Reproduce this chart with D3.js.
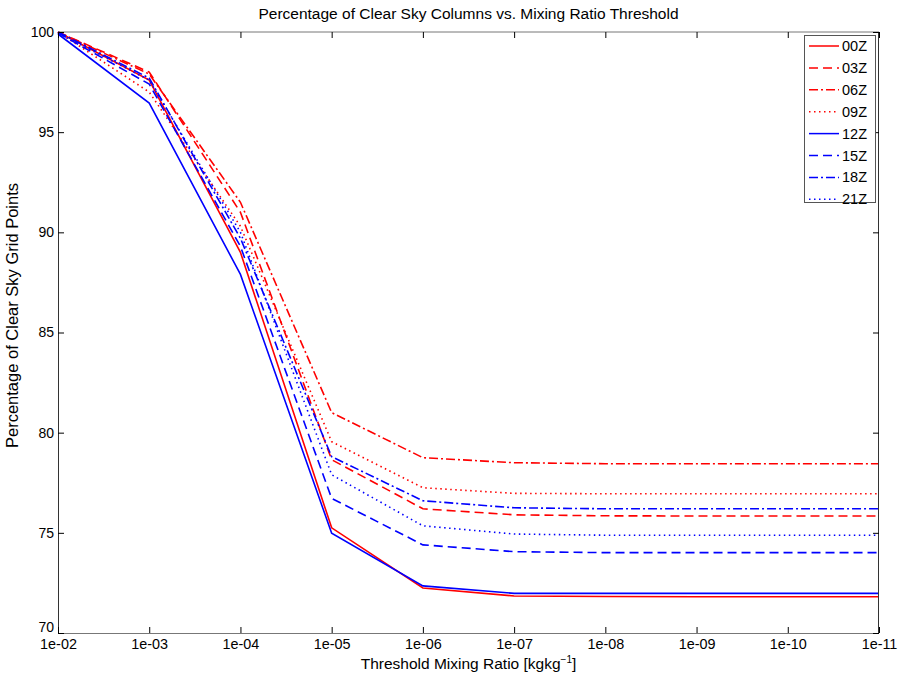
<html>
<meta charset="utf-8">
<style>
body { margin: 0; background: #fff; }
text { font-family: "Liberation Sans", Arial, sans-serif; }
.series { fill: none; stroke-width: 1.6px; }
</style>
<body>
<script src="https://d3js.org/d3.v7.min.js"></script>
<script>

// threshold values (x) and tick labels
var thresholds = [1e-2, 1e-3, 1e-4, 1e-5, 1e-6, 1e-7, 1e-8, 1e-9, 1e-10, 1e-11];
var xTickLabels = ["1e-02", "1e-03", "1e-04", "1e-05", "1e-06", "1e-07", "1e-08", "1e-09", "1e-10", "1e-11"];
var yTicks = [70, 75, 80, 85, 90, 95, 100];

// series names
var names = ["00Z", "03Z", "06Z", "09Z", "12Z", "15Z", "18Z", "21Z"];

// percentage of clear sky grid points, one array per time
var z00 = [100, 97.6, 89.0, 75.25, 72.25, 71.85, 71.82, 71.81, 71.81, 71.81];
var z03 = [100, 98.0, 91.0, 78.65, 76.2, 75.9, 75.85, 75.84, 75.84, 75.84];
var z06 = [100, 97.9, 91.5, 81.0, 78.75, 78.5, 78.45, 78.45, 78.45, 78.45];
var z09 = [100, 97.0, 90.3, 79.55, 77.25, 76.97, 76.95, 76.95, 76.95, 76.95];
var z12 = [99.9, 96.45, 87.9, 74.98, 72.35, 71.98, 71.98, 71.98, 71.98, 71.98];
var z15 = [99.95, 97.4, 89.3, 76.72, 74.4, 74.06, 74.01, 74.01, 74.01, 74.01];
var z18 = [100, 97.7, 89.7, 78.8, 76.6, 76.25, 76.2, 76.2, 76.2, 76.2];
var z21 = [99.95, 97.6, 90.0, 77.9, 75.35, 74.94, 74.88, 74.88, 74.88, 74.88];

var seriesValues = [z00, z03, z06, z09, z12, z15, z18, z21];
var colors = ["#ff0000", "#ff0000", "#ff0000", "#ff0000", "#0000ff", "#0000ff", "#0000ff", "#0000ff"];
var dashes = [null, "9,5", "9,3,2,3", "1.5,3.5", null, "9,5", "9,3,2,3", "1.5,3.5"];

// set the dimensions and margins of the graph
var margin = {top: 32, right: 22, bottom: 44, left: 58},
    width = 901 - margin.left - margin.right,
    height = 677 - margin.top - margin.bottom;

// set the ranges (log scale, decreasing thresholds to the right)
var x = d3.scaleLog().domain([1e-2, 1e-11]).range([0, width]);
var y = d3.scaleLinear().domain([70, 100]).range([height, 0]);

var line = d3.line()
    .x(function(d) { return x(d.t); })
    .y(function(d) { return y(d.v); });

var svg = d3.select("body").append("svg")
    .attr("width", 901)
    .attr("height", 677)
  .append("g")
    .attr("transform", "translate(" + margin.left + "," + margin.top + ")");

// title
svg.append("text")
    .attr("x", width / 2)
    .attr("y", -13)
    .attr("text-anchor", "middle")
    .style("font-size", "15.5px")
    .text("Percentage of Clear Sky Columns vs. Mixing Ratio Threshold");

// the lines
seriesValues.forEach(function(vals, i) {
  var data = vals.map(function(v, j) { return {t: thresholds[j], v: v}; });
  svg.append("path")
      .datum(data)
      .attr("class", "series")
      .style("stroke", colors[i])
      .style("stroke-dasharray", dashes[i])
      .attr("d", line);
});

// box
svg.append("line").attr("x1", 0).attr("x2", width).attr("y1", 0).attr("y2", 0)
    .style("stroke", "#777");
svg.append("line").attr("x1", 0).attr("x2", width).attr("y1", height + 0.5).attr("y2", height + 0.5)
    .style("stroke", "#777");
svg.append("line").attr("x1", 0.5).attr("x2", 0.5).attr("y1", 0).attr("y2", height)
    .style("stroke", "#333");
svg.append("line").attr("x1", width - 0.5).attr("x2", width - 0.5).attr("y1", 0).attr("y2", height)
    .style("stroke", "#333");

// X axis (bottom and top, inner ticks)
var xAxis = d3.axisBottom(x).tickValues(thresholds)
    .tickFormat(function(d, i) { return xTickLabels[i]; })
    .tickSizeInner(-6).tickSizeOuter(0).tickPadding(6);
var gx = svg.append("g").attr("transform", "translate(0," + height + ")").call(xAxis);
gx.select(".domain").remove();
gx.selectAll("text").style("font-size", "14.4px").attr("fill", "#000");
gx.selectAll("line").style("stroke", "#000");

var gxt = svg.append("g").call(d3.axisTop(x).tickValues(thresholds).tickFormat("")
    .tickSizeInner(-6).tickSizeOuter(0));
gxt.select(".domain").remove();
gxt.selectAll("line").style("stroke", "#000");

// Y axis (left and right, inner ticks)
var gy = svg.append("g").call(d3.axisLeft(y).tickValues(yTicks)
    .tickSizeInner(-6).tickSizeOuter(0).tickPadding(4));
gy.select(".domain").remove();
gy.selectAll("text").style("font-size", "14px").attr("fill", "#000");
gy.selectAll("line").style("stroke", "#000");
// lift the bottom label a little so it clears the first x label
gy.selectAll("text").filter(function(d) { return d === 70; }).attr("y", -6);

var gyr = svg.append("g").attr("transform", "translate(" + width + ",0)")
    .call(d3.axisRight(y).tickValues(yTicks).tickFormat("")
    .tickSizeInner(-6).tickSizeOuter(0));
gyr.select(".domain").remove();
gyr.selectAll("line").style("stroke", "#000");

// axis labels
var xl = svg.append("text")
    .attr("x", width / 2)
    .attr("y", height + 36)
    .attr("text-anchor", "middle")
    .style("font-size", "15.5px");
xl.append("tspan").text("Threshold Mixing Ratio [kgkg");
xl.append("tspan").attr("dy", -6).style("font-size", "10px").text("\u22121");
xl.append("tspan").attr("dy", 6).text("]");

svg.append("text")
    .attr("transform", "translate(" + (-40) + "," + (height / 2 - 17) + ") rotate(-90)")
    .attr("text-anchor", "middle")
    .style("font-size", "16.5px")
    .text("Percentage of Clear Sky Grid Points");

// legend
var legend = svg.append("g").attr("transform", "translate(" + (width - 75) + ",3)");
legend.append("rect")
    .attr("x", 0.5).attr("y", 0.5)
    .attr("width", 71).attr("height", 167)
    .style("fill", "#fff")
    .style("stroke", "#555");
names.forEach(function(n, i) {
  var ly = 11 + i * 21.9;
  legend.append("line")
      .attr("x1", 5).attr("x2", 35)
      .attr("y1", ly).attr("y2", ly)
      .style("stroke", colors[i])
      .style("stroke-width", 1.5)
      .style("stroke-dasharray", dashes[i]);
  legend.append("text")
      .attr("x", 38).attr("y", ly + 5)
      .style("font-size", "14.5px")
      .text(n);
});

</script>
</body>
</html>
